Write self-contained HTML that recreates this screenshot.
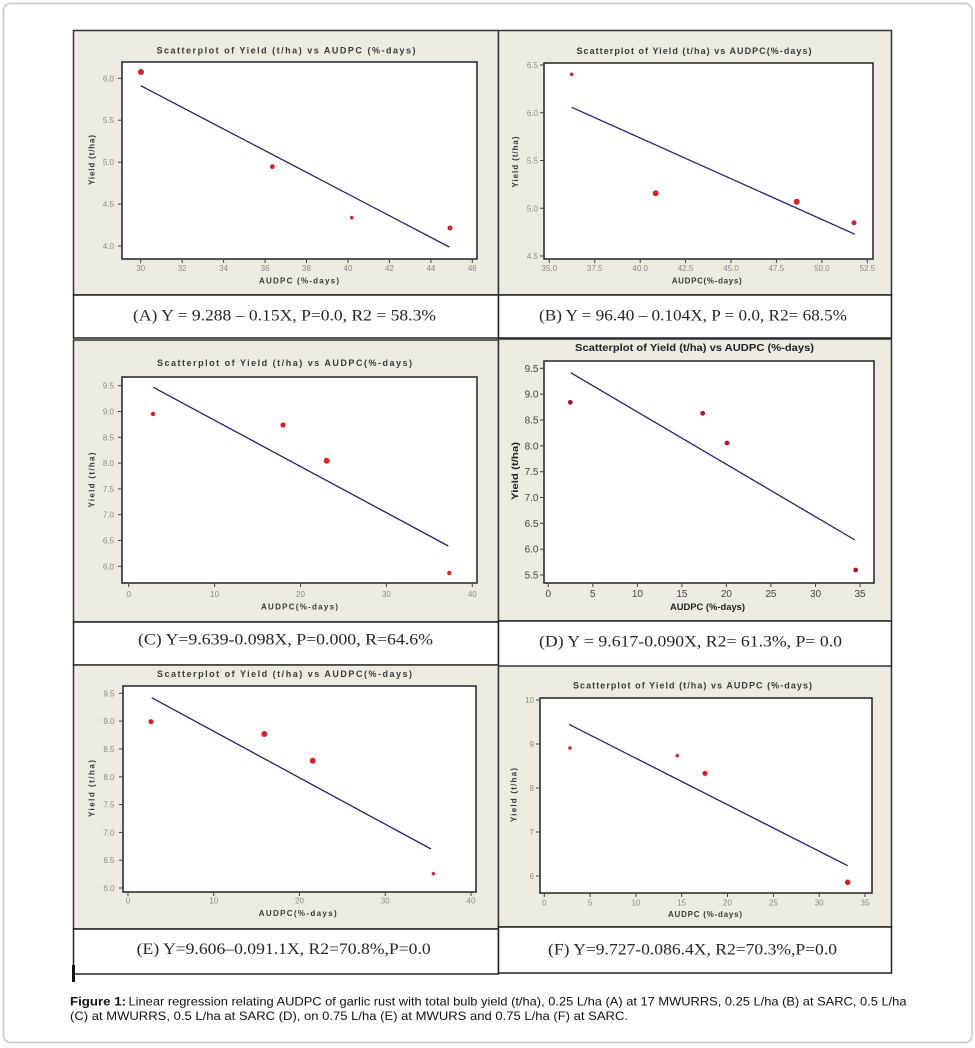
<!DOCTYPE html>
<html>
<head>
<meta charset="utf-8">
<style>
  html,body{margin:0;padding:0;background:#fff;}
  svg{display:block;}
  .t{font-family:"Liberation Sans",sans-serif;font-weight:bold;font-size:9px;fill:#3a3a3a;}
  .tD{font-family:"Liberation Sans",sans-serif;font-weight:bold;font-size:10.5px;fill:#222;}
  .al{font-family:"Liberation Sans",sans-serif;font-weight:bold;font-size:8px;fill:#3a3a3a;}
  .alD{font-family:"Liberation Sans",sans-serif;font-weight:bold;font-size:9.5px;fill:#222;}
  .tk{font-family:"Liberation Sans",sans-serif;font-size:8px;fill:#8a8a8a;}
  .tkD{font-family:"Liberation Sans",sans-serif;font-size:10px;fill:#444;}
  .eq{font-family:"Liberation Serif",serif;font-size:16px;fill:#262626;}
  .cap{font-family:"Liberation Sans",sans-serif;font-size:12px;fill:#111;}
  .capb{font-family:"Liberation Sans",sans-serif;font-size:12px;font-weight:bold;fill:#111;}
  .reg{stroke:#23246e;stroke-width:1.3;fill:none;}
  .tick{stroke:#444;stroke-width:1;}
  .pt{fill:#d3222c;}
  .ptD{fill:#b0162e;}
</style>
</head>
<body>
<svg width="975" height="1048" viewBox="0 0 975 1048" xmlns="http://www.w3.org/2000/svg">
  <!-- outer rounded frame -->
  <rect x="3.5" y="3.5" width="968.5" height="1039" rx="7" ry="7" fill="#fff" stroke="#c6c6c6" stroke-width="1.5"/>

  <!-- ================= PANEL A ================= -->
  <rect x="73.5" y="30.5" width="425" height="264.5" fill="#edeae2" stroke="#333" stroke-width="1.5"/>
  <rect x="73.5" y="295" width="425" height="43" fill="#fff" stroke="#222" stroke-width="1.5"/>
  <rect x="122" y="62" width="355" height="197" fill="#fff" stroke="#222" stroke-width="1.5"/>
  <text class="t" x="286" y="53.5" text-anchor="middle" textLength="259" lengthAdjust="spacing">Scatterplot of Yield (t/ha) vs AUDPC (%-days)</text>
  <g class="tick">
    <line x1="140.7" y1="259" x2="140.7" y2="263"/><line x1="182.2" y1="259" x2="182.2" y2="263"/>
    <line x1="223.6" y1="259" x2="223.6" y2="263"/><line x1="265.1" y1="259" x2="265.1" y2="263"/>
    <line x1="306.5" y1="259" x2="306.5" y2="263"/><line x1="348" y1="259" x2="348" y2="263"/>
    <line x1="389.4" y1="259" x2="389.4" y2="263"/><line x1="430.9" y1="259" x2="430.9" y2="263"/>
    <line x1="472.3" y1="259" x2="472.3" y2="263"/>
    <line x1="118" y1="78.3" x2="122" y2="78.3"/><line x1="118" y1="120.2" x2="122" y2="120.2"/>
    <line x1="118" y1="162.2" x2="122" y2="162.2"/><line x1="118" y1="204.1" x2="122" y2="204.1"/>
    <line x1="118" y1="246" x2="122" y2="246"/>
  </g>
  <g class="tk" text-anchor="middle">
    <text x="140.7" y="271">30</text><text x="182.2" y="271">32</text><text x="223.6" y="271">34</text>
    <text x="265.1" y="271">36</text><text x="306.5" y="271">38</text><text x="348" y="271">40</text>
    <text x="389.4" y="271">42</text><text x="430.9" y="271">44</text><text x="472.3" y="271">46</text>
  </g>
  <g class="tk" text-anchor="end">
    <text x="114" y="81.3">6.0</text><text x="114" y="123.2">5.5</text><text x="114" y="165.2">5.0</text>
    <text x="114" y="207.1">4.5</text><text x="114" y="249">4.0</text>
  </g>
  <text class="al" x="299" y="283.5" text-anchor="middle" textLength="80" lengthAdjust="spacing">AUDPC (%-days)</text>
  <text class="al" transform="translate(94.5,160) rotate(-90)" text-anchor="middle" textLength="50" lengthAdjust="spacing">Yield (t/ha)</text>
  <line class="reg" x1="140.7" y1="85.7" x2="449.3" y2="247"/>
  <circle class="pt" cx="141" cy="72" r="3"/>
  <circle class="pt" cx="272.3" cy="166.7" r="2.4"/>
  <circle class="pt" cx="351.7" cy="217.7" r="1.8"/>
  <circle class="pt" cx="450" cy="228" r="2.5"/>
  <text class="eq" x="133" y="320.5" textLength="303" lengthAdjust="spacingAndGlyphs">(A)  Y = 9.288 – 0.15X, P=0.0, R2 = 58.3%</text>

  <!-- ================= PANEL B ================= -->
  <rect x="498.5" y="30.5" width="393" height="264.5" fill="#edeae2" stroke="#333" stroke-width="1.5"/>
  <rect x="498.5" y="295" width="393" height="43" fill="#fff" stroke="#222" stroke-width="1.5"/>
  <rect x="544" y="63" width="329" height="196" fill="#fff" stroke="#222" stroke-width="1.5"/>
  <text class="t" x="694" y="54" text-anchor="middle" textLength="235" lengthAdjust="spacing">Scatterplot of Yield (t/ha) vs AUDPC(%-days)</text>
  <g class="tick">
    <line x1="549.3" y1="259" x2="549.3" y2="263"/><line x1="594.7" y1="259" x2="594.7" y2="263"/>
    <line x1="640.2" y1="259" x2="640.2" y2="263"/><line x1="685.6" y1="259" x2="685.6" y2="263"/>
    <line x1="731" y1="259" x2="731" y2="263"/><line x1="776.4" y1="259" x2="776.4" y2="263"/>
    <line x1="821.9" y1="259" x2="821.9" y2="263"/><line x1="867.3" y1="259" x2="867.3" y2="263"/>
    <line x1="540" y1="65" x2="544" y2="65"/><line x1="540" y1="112.75" x2="544" y2="112.75"/>
    <line x1="540" y1="160.5" x2="544" y2="160.5"/><line x1="540" y1="208.25" x2="544" y2="208.25"/>
    <line x1="540" y1="256" x2="544" y2="256"/>
  </g>
  <g class="tk" text-anchor="middle">
    <text x="549.3" y="271">35.0</text><text x="594.7" y="271">37.5</text><text x="640.2" y="271">40.0</text>
    <text x="685.6" y="271">42.5</text><text x="731" y="271">45.0</text><text x="776.4" y="271">47.5</text>
    <text x="821.9" y="271">50.0</text><text x="867.3" y="271">52.5</text>
  </g>
  <g class="tk" text-anchor="end">
    <text x="538" y="68">6.5</text><text x="538" y="115.75">6.0</text><text x="538" y="163.5">5.5</text>
    <text x="538" y="211.25">5.0</text><text x="538" y="259">4.5</text>
  </g>
  <text class="al" x="706.7" y="283.5" text-anchor="middle" textLength="70" lengthAdjust="spacing">AUDPC(%-days)</text>
  <text class="al" transform="translate(518,162) rotate(-90)" text-anchor="middle" textLength="51" lengthAdjust="spacing">Yield (t/ha)</text>
  <line class="reg" x1="571.7" y1="107.3" x2="855" y2="234.3"/>
  <circle class="pt" cx="571.7" cy="74.3" r="1.8"/>
  <circle class="pt" cx="655.7" cy="193.3" r="3"/>
  <circle class="pt" cx="796.7" cy="201.7" r="3"/>
  <circle class="pt" cx="854" cy="222.7" r="2.5"/>
  <text class="eq" x="539" y="320.5" textLength="308" lengthAdjust="spacingAndGlyphs">(B) Y = 96.40 – 0.104X, P = 0.0, R2= 68.5%</text>

  <!-- ================= PANEL C ================= -->
  <rect x="73.5" y="340" width="425" height="282" fill="#edeae2" stroke="#333" stroke-width="1.5"/>
  <rect x="73.5" y="622" width="425" height="43" fill="#fff" stroke="#222" stroke-width="1.5"/>
  <rect x="122" y="377" width="355" height="206" fill="#fff" stroke="#222" stroke-width="1.5"/>
  <text class="t" x="284.5" y="366" text-anchor="middle" textLength="255" lengthAdjust="spacing">Scatterplot of Yield (t/ha) vs AUDPC(%-days)</text>
  <g class="tick">
    <line x1="128.7" y1="583" x2="128.7" y2="587"/><line x1="214.6" y1="583" x2="214.6" y2="587"/>
    <line x1="300.5" y1="583" x2="300.5" y2="587"/><line x1="386.4" y1="583" x2="386.4" y2="587"/>
    <line x1="472.3" y1="583" x2="472.3" y2="587"/>
    <line x1="118" y1="385.7" x2="122" y2="385.7"/><line x1="118" y1="411.5" x2="122" y2="411.5"/>
    <line x1="118" y1="437.3" x2="122" y2="437.3"/><line x1="118" y1="463.1" x2="122" y2="463.1"/>
    <line x1="118" y1="488.9" x2="122" y2="488.9"/><line x1="118" y1="514.7" x2="122" y2="514.7"/>
    <line x1="118" y1="540.5" x2="122" y2="540.5"/><line x1="118" y1="566.3" x2="122" y2="566.3"/>
  </g>
  <g class="tk" text-anchor="middle">
    <text x="128.7" y="597">0</text><text x="214.6" y="597">10</text><text x="300.5" y="597">20</text>
    <text x="386.4" y="597">30</text><text x="472.3" y="597">40</text>
  </g>
  <g class="tk" text-anchor="end">
    <text x="114" y="388.7">9.5</text><text x="114" y="414.5">9.0</text><text x="114" y="440.3">8.5</text>
    <text x="114" y="466.1">8.0</text><text x="114" y="491.9">7.5</text><text x="114" y="517.7">7.0</text>
    <text x="114" y="543.5">6.5</text><text x="114" y="569.3">6.0</text>
  </g>
  <text class="al" x="299.5" y="609.5" text-anchor="middle" textLength="77" lengthAdjust="spacing">AUDPC(%-days)</text>
  <text class="al" transform="translate(94.5,480) rotate(-90)" text-anchor="middle" textLength="55" lengthAdjust="spacing">Yield (t/ha)</text>
  <line class="reg" x1="153.3" y1="387.3" x2="448.3" y2="546"/>
  <circle class="pt" cx="153" cy="414" r="2.2"/>
  <circle class="pt" cx="283" cy="425" r="2.6"/>
  <circle class="pt" cx="326.7" cy="460.7" r="3"/>
  <circle class="pt" cx="449.3" cy="573" r="2.2"/>
  <text class="eq" x="138" y="644.5" textLength="295" lengthAdjust="spacingAndGlyphs">(C)  Y=9.639-0.098X, P=0.000, R=64.6%</text>

  <!-- ================= PANEL D ================= -->
  <rect x="498.5" y="339" width="393" height="282" fill="#edeae2" stroke="#333" stroke-width="1.5"/>
  <rect x="498.5" y="621" width="393" height="46" fill="#fff" stroke="#222" stroke-width="1.5"/>
  <rect x="544" y="361" width="330" height="222" fill="#fff" stroke="#222" stroke-width="1.5"/>
  <text class="tD" x="694.5" y="351" text-anchor="middle" textLength="239" lengthAdjust="spacingAndGlyphs">Scatterplot of Yield (t/ha) vs AUDPC (%-days)</text>
  <g class="tick">
    <line x1="548.3" y1="583" x2="548.3" y2="587"/><line x1="592.8" y1="583" x2="592.8" y2="587"/>
    <line x1="637.4" y1="583" x2="637.4" y2="587"/><line x1="681.9" y1="583" x2="681.9" y2="587"/>
    <line x1="726.4" y1="583" x2="726.4" y2="587"/><line x1="770.9" y1="583" x2="770.9" y2="587"/>
    <line x1="815.5" y1="583" x2="815.5" y2="587"/><line x1="860" y1="583" x2="860" y2="587"/>
    <line x1="540" y1="368.3" x2="544" y2="368.3"/><line x1="540" y1="394.1" x2="544" y2="394.1"/>
    <line x1="540" y1="420" x2="544" y2="420"/><line x1="540" y1="445.8" x2="544" y2="445.8"/>
    <line x1="540" y1="471.7" x2="544" y2="471.7"/><line x1="540" y1="497.5" x2="544" y2="497.5"/>
    <line x1="540" y1="523.3" x2="544" y2="523.3"/><line x1="540" y1="549.2" x2="544" y2="549.2"/>
    <line x1="540" y1="575" x2="544" y2="575"/>
  </g>
  <g class="tkD" text-anchor="middle">
    <text x="548.3" y="597">0</text><text x="592.8" y="597">5</text><text x="637.4" y="597">10</text>
    <text x="681.9" y="597">15</text><text x="726.4" y="597">20</text><text x="770.9" y="597">25</text>
    <text x="815.5" y="597">30</text><text x="860" y="597">35</text>
  </g>
  <g class="tkD" text-anchor="end">
    <text x="538.5" y="371.8">9.5</text><text x="538.5" y="397.6">9.0</text><text x="538.5" y="423.5">8.5</text>
    <text x="538.5" y="449.3">8.0</text><text x="538.5" y="475.2">7.5</text><text x="538.5" y="501">7.0</text>
    <text x="538.5" y="526.8">6.5</text><text x="538.5" y="552.7">6.0</text><text x="538.5" y="578.5">5.5</text>
  </g>
  <text class="alD" x="707.5" y="610" text-anchor="middle" textLength="75" lengthAdjust="spacingAndGlyphs">AUDPC (%-days)</text>
  <text class="alD" transform="translate(518,471) rotate(-90)" text-anchor="middle" textLength="58" lengthAdjust="spacingAndGlyphs">Yield (t/ha)</text>
  <line class="reg" x1="570.7" y1="372.7" x2="855" y2="540"/>
  <circle class="ptD" cx="570.3" cy="402.3" r="2.4"/>
  <circle class="ptD" cx="702.7" cy="413.3" r="2.4"/>
  <circle class="ptD" cx="727" cy="443" r="2.4"/>
  <circle class="ptD" cx="855.7" cy="570" r="2.4"/>
  <text class="eq" x="539" y="646.5" textLength="303" lengthAdjust="spacingAndGlyphs">(D)  Y = 9.617-0.090X, R2= 61.3%, P= 0.0</text>

  <!-- ================= PANEL E ================= -->
  <rect x="73.5" y="665" width="425" height="264" fill="#edeae2" stroke="#333" stroke-width="1.5"/>
  <rect x="73.5" y="929" width="425" height="45" fill="#fff" stroke="#222" stroke-width="1.5"/>
  <rect x="123" y="686" width="353" height="206" fill="#fff" stroke="#222" stroke-width="1.5"/>
  <text class="t" x="284.5" y="677" text-anchor="middle" textLength="255" lengthAdjust="spacing">Scatterplot of Yield (t/ha) vs AUDPC(%-days)</text>
  <g class="tick">
    <line x1="128" y1="892" x2="128" y2="896"/><line x1="213.75" y1="892" x2="213.75" y2="896"/>
    <line x1="299.5" y1="892" x2="299.5" y2="896"/><line x1="385.25" y1="892" x2="385.25" y2="896"/>
    <line x1="471" y1="892" x2="471" y2="896"/>
    <line x1="119" y1="693.3" x2="123" y2="693.3"/><line x1="119" y1="721.1" x2="123" y2="721.1"/>
    <line x1="119" y1="749" x2="123" y2="749"/><line x1="119" y1="776.8" x2="123" y2="776.8"/>
    <line x1="119" y1="804.6" x2="123" y2="804.6"/><line x1="119" y1="832.4" x2="123" y2="832.4"/>
    <line x1="119" y1="860.2" x2="123" y2="860.2"/><line x1="119" y1="888" x2="123" y2="888"/>
  </g>
  <g class="tk" text-anchor="middle">
    <text x="128" y="903.5">0</text><text x="213.75" y="903.5">10</text><text x="299.5" y="903.5">20</text>
    <text x="385.25" y="903.5">30</text><text x="471" y="903.5">40</text>
  </g>
  <g class="tk" text-anchor="end">
    <text x="114.5" y="696.3">9.5</text><text x="114.5" y="724.1">9.0</text><text x="114.5" y="752">8.5</text>
    <text x="114.5" y="779.8">8.0</text><text x="114.5" y="807.6">7.5</text><text x="114.5" y="835.4">7.0</text>
    <text x="114.5" y="863.2">6.5</text><text x="114.5" y="891">6.0</text>
  </g>
  <text class="al" x="297.7" y="916" text-anchor="middle" textLength="78" lengthAdjust="spacing">AUDPC(%-days)</text>
  <text class="al" transform="translate(94.5,788.5) rotate(-90)" text-anchor="middle" textLength="57" lengthAdjust="spacing">Yield (t/ha)</text>
  <line class="reg" x1="151.7" y1="697.7" x2="431" y2="849"/>
  <circle class="pt" cx="151" cy="721.7" r="2.6"/>
  <circle class="pt" cx="264.3" cy="734" r="3"/>
  <circle class="pt" cx="312.7" cy="760.7" r="3"/>
  <circle class="pt" cx="433.3" cy="873.7" r="1.7"/>
  <text class="eq" x="136.7" y="954" textLength="294" lengthAdjust="spacingAndGlyphs">(E)  Y=9.606–0.091.1X, R2=70.8%,P=0.0</text>

  <!-- ================= PANEL F ================= -->
  <rect x="498.5" y="666" width="393" height="261" fill="#edeae2" stroke="#333" stroke-width="1.5"/>
  <rect x="498.5" y="927" width="393" height="46" fill="#fff" stroke="#222" stroke-width="1.5"/>
  <rect x="540" y="698" width="332" height="195" fill="#fff" stroke="#222" stroke-width="1.5"/>
  <text class="t" x="692.5" y="688.5" text-anchor="middle" textLength="239" lengthAdjust="spacing">Scatterplot of Yield (t/ha) vs AUDPC (%-days)</text>
  <g class="tick">
    <line x1="544.3" y1="893" x2="544.3" y2="897"/><line x1="590.1" y1="893" x2="590.1" y2="897"/>
    <line x1="635.9" y1="893" x2="635.9" y2="897"/><line x1="681.7" y1="893" x2="681.7" y2="897"/>
    <line x1="727.5" y1="893" x2="727.5" y2="897"/><line x1="773.4" y1="893" x2="773.4" y2="897"/>
    <line x1="819.2" y1="893" x2="819.2" y2="897"/><line x1="865" y1="893" x2="865" y2="897"/>
    <line x1="536" y1="700" x2="540" y2="700"/><line x1="536" y1="744" x2="540" y2="744"/>
    <line x1="536" y1="788" x2="540" y2="788"/><line x1="536" y1="832" x2="540" y2="832"/>
    <line x1="536" y1="876" x2="540" y2="876"/>
  </g>
  <g class="tk" text-anchor="middle">
    <text x="544.3" y="905.5">0</text><text x="590.1" y="905.5">5</text><text x="635.9" y="905.5">10</text>
    <text x="681.7" y="905.5">15</text><text x="727.5" y="905.5">20</text><text x="773.4" y="905.5">25</text>
    <text x="819.2" y="905.5">30</text><text x="865" y="905.5">35</text>
  </g>
  <g class="tk" text-anchor="end">
    <text x="534" y="703">10</text><text x="534" y="747">9</text><text x="534" y="791">8</text>
    <text x="534" y="835">7</text><text x="534" y="879">6</text>
  </g>
  <text class="al" x="705" y="917" text-anchor="middle" textLength="74" lengthAdjust="spacing">AUDPC (%-days)</text>
  <text class="al" transform="translate(516.5,795) rotate(-90)" text-anchor="middle" textLength="54" lengthAdjust="spacing">Yield (t/ha)</text>
  <line class="reg" x1="569" y1="724.3" x2="847.7" y2="865.7"/>
  <circle class="pt" cx="570" cy="748" r="1.8"/>
  <circle class="pt" cx="677.3" cy="755.7" r="1.8"/>
  <circle class="pt" cx="705" cy="773.3" r="2.6"/>
  <circle class="pt" cx="847.7" cy="882.3" r="2.8"/>
  <text class="eq" x="548" y="954.5" textLength="289" lengthAdjust="spacingAndGlyphs">(F)  Y=9.727-0.086.4X, R2=70.3%,P=0.0</text>

  <!-- bottom-left marker -->
  <rect x="72" y="965" width="3" height="17" fill="#111"/>

  <!-- caption -->
  <text class="capb" x="70" y="1005.5" textLength="56" lengthAdjust="spacingAndGlyphs">Figure 1:</text>
  <text class="cap" x="128.5" y="1005.5" textLength="778" lengthAdjust="spacingAndGlyphs">Linear regression relating AUDPC of garlic rust with total bulb yield (t/ha), 0.25 L/ha (A) at 17 MWURRS, 0.25  L/ha (B) at SARC, 0.5 L/ha</text>
  <text class="cap" x="70" y="1020" textLength="558" lengthAdjust="spacingAndGlyphs">(C) at MWURRS, 0.5  L/ha at SARC (D), on 0.75 L/ha (E) at MWURS and 0.75 L/ha (F) at SARC.</text>
</svg>
</body>
</html>
